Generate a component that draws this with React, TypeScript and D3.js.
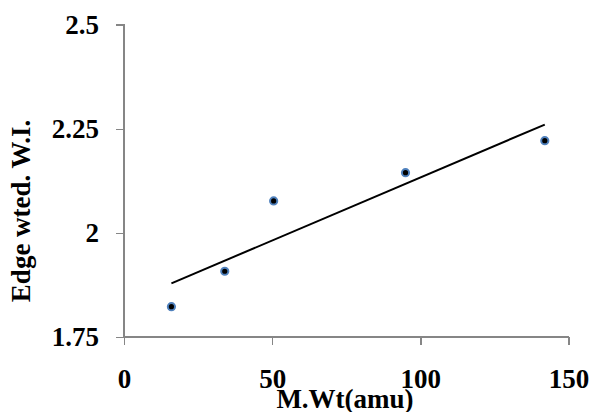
import React, { useEffect, useRef } from 'react';
import * as d3 from 'd3';

// molecular weight (amu) vs edge weighted W.I.
const molWeights: number[] = [16, 34, 50.5, 95, 142];
const edgeWI: number[] = [1.823, 1.908, 2.077, 2.145, 2.222];
const xTicks: number[] = [0, 50, 100, 150];
const yTicks: number[] = [1.75, 2, 2.25, 2.5];

const App = () => {
    const svgRef = useRef<SVGSVGElement | null>(null);

    useEffect(() => {
        const width = 591;
        const height = 412;
        const font = "'Liberation Serif', 'Times New Roman', Times, serif";
        const axisColor = '#868686';

        const svg = d3.select(svgRef.current)
            .attr('width', width)
            .attr('height', height);
        svg.selectAll('*').remove();

        const xScale = d3.scaleLinear().domain([0, 150]).range([124, 568.5]);
        const yScale = d3.scaleLinear().domain([1.75, 2.5]).range([337, 25]);

        const points = molWeights.map((m, i) => ({ x: m, y: edgeWI[i] }));

        // y axis
        const yAxis = svg.append('g')
            .attr('transform', `translate(${xScale(0)},0)`)
            .call(d3.axisLeft(yScale).tickValues(yTicks).tickSize(8).tickFormat(d3.format('')));
        yAxis.select('.domain').attr('stroke', axisColor).attr('stroke-width', 1.4).attr('d', `M-8,${yScale(2.5)}H0V${yScale(1.75)}`);
        yAxis.selectAll('.tick line').attr('stroke', axisColor).attr('stroke-width', 1.4);
        yAxis.selectAll('.tick text')
            .attr('x', -25)
            .attr('dy', '0.33em');

        // x axis
        const xAxis = svg.append('g')
            .attr('transform', `translate(0,${yScale(1.75)})`)
            .call(d3.axisBottom(xScale).tickValues(xTicks).tickSize(8).tickFormat(d3.format('')));
        xAxis.select('.domain').attr('stroke', axisColor).attr('stroke-width', 1.4).attr('d', `M${xScale(0)},0H${xScale(150)}V8`);
        xAxis.selectAll('.tick line').attr('stroke', axisColor).attr('stroke-width', 1.4);
        xAxis.selectAll('.tick text')
            .attr('y', 51)
            .attr('dy', 0);
        svg.selectAll('.domain, .tick line').attr('shape-rendering', 'crispEdges');

        // linear trendline (least squares)
        const mx = d3.mean(molWeights) as number;
        const my = d3.mean(edgeWI) as number;
        const sxy = d3.sum(points, d => (d.x - mx) * (d.y - my));
        const sxx = d3.sum(points, d => (d.x - mx) * (d.x - mx));
        const slope = sxy / sxx;
        const intercept = my - slope * mx;
        const xExtent = d3.extent(molWeights) as [number, number];

        svg.append('path')
            .datum(xExtent.map(x => ({ x, y: intercept + slope * x })))
            .attr('fill', 'none')
            .attr('stroke', '#000')
            .attr('stroke-width', 2)
            .attr('d', d3.line<{ x: number; y: number }>().x(d => xScale(d.x)).y(d => yScale(d.y)));

        // markers
        svg.append('g')
            .selectAll('circle')
            .data(points)
            .join('circle')
            .attr('cx', d => xScale(d.x))
            .attr('cy', d => yScale(d.y))
            .attr('r', 3.6)
            .attr('fill', '#000')
            .attr('stroke', '#4f81bd')
            .attr('stroke-width', 2);

        // titles
        svg.append('text')
            .text('M.Wt(amu)')
            .attr('x', 345)
            .attr('y', 408)
            .attr('text-anchor', 'middle');

        svg.append('text')
            .text('Edge wted. W.I.')
            .attr('transform', 'translate(30,211) rotate(-90)')
            .attr('text-anchor', 'middle');

        svg.selectAll('text')
            .style('font-family', font)
            .style('font-weight', 'bold')
            .style('font-size', '27px')
            .attr('fill', '#000');
    }, []);

    return (
        <svg ref={svgRef} style={{ position: 'absolute', left: 0, top: 0, background: '#fff' }}></svg>
    );
};

export default App;
